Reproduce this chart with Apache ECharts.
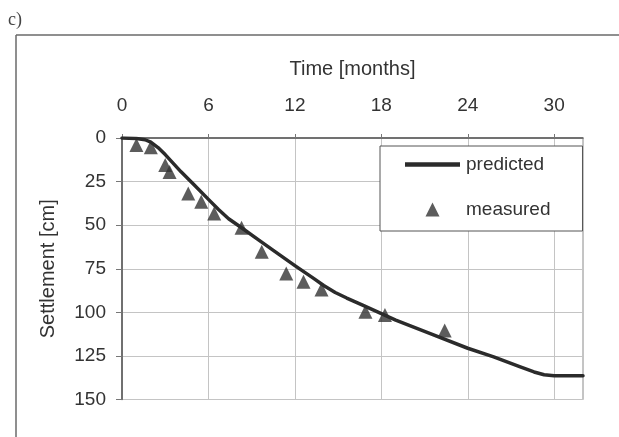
<!DOCTYPE html>
<html>
<head>
<meta charset="utf-8">
<title>Settlement vs time</title>
<script src="https://cdn.jsdelivr.net/npm/echarts@6/dist/echarts.min.js"></script>
<style>
  html, body { margin: 0; padding: 0; background: #ffffff; }
  #chart { width: 619px; height: 437px; }
</style>
</head>
<body>
<div id="chart"></div>
<script>
// Predicted settlement curve (months, cm)
const predictedTime = [0, 1.0, 1.6, 2.0, 2.5, 3.0, 4.1, 5.0, 6.0, 6.7, 7.4, 8.3, 9.5, 10.6, 12.0, 13.3, 14.0, 14.8, 15.6, 16.7, 19.0, 21.4, 24.0, 25.8, 27.6, 28.6, 29.3, 30.0, 32.0];
const predictedSettlement = [0, 0.3, 1.0, 2.4, 5.5, 9.5, 19.4, 26.8, 35.2, 41.0, 46.3, 51.5, 58.6, 65.0, 73.2, 80.5, 84.6, 88.6, 91.8, 95.9, 104.5, 112.2, 120.6, 125.6, 131.2, 134.2, 135.8, 136.4, 136.4];

// Measured settlement readings (months, cm)
const measuredTime = [1.0, 2.0, 3.0, 3.3, 4.6, 5.5, 6.4, 8.3, 9.7, 11.4, 12.6, 13.85, 16.9, 18.25, 22.4];
const measuredSettlement = [4.0, 5.3, 15.5, 19.5, 31.8, 36.6, 43.3, 51.5, 65.3, 77.7, 82.5, 86.9, 99.7, 101.6, 110.4];

// Axis ranges and labels
const timeTicks = [0, 6, 12, 18, 24, 30];
const settlementTicks = [0, 25, 50, 75, 100, 125, 150];
const seriesNames = ['predicted', 'measured'];
const axisTitles = { time: 'Time [months]', settlement: 'Settlement [cm]' };
const panelLabel = 'c)';

const FONT = '"Liberation Sans", Arial, sans-serif';
const TEXT = '#333333';

const pairs = (xs, ys) => xs.map((x, i) => [x, ys[i]]);

const chart = echarts.init(document.getElementById('chart'), null, { renderer: 'canvas' });

chart.setOption({
  backgroundColor: '#ffffff',
  animation: false,
  textStyle: { fontFamily: FONT },
  graphic: [
    // panel frame: top rule and left rule
    { type: 'line', silent: true, shape: { x1: 16, y1: 35, x2: 619, y2: 35 }, style: { stroke: '#6a6a6a', lineWidth: 1.5 } },
    { type: 'line', silent: true, shape: { x1: 16, y1: 35, x2: 16, y2: 437 }, style: { stroke: '#6a6a6a', lineWidth: 1.5 } },
    { type: 'text', silent: true, left: 8, top: 11,
      style: { text: panelLabel, font: '18px "Liberation Serif", "Times New Roman", serif', fill: '#444' } }
  ],
  grid: {
    left: 122, right: 36, top: 138, bottom: 37.5,
    show: true, borderColor: '#8a8a8a', borderWidth: 1, backgroundColor: 'transparent'
  },
  legend: {
    orient: 'vertical',
    left: 380, top: 146,
    symbolKeepAspect: true,
    data: [
      // thick dash for the curve, upright triangle for the readings
      { name: seriesNames[0], icon: 'path://M0,0H55V4.5H0Z' },
      { name: seriesNames[1], icon: 'path://M7,0L14,14L0,14Z' }
    ],
    itemWidth: 55, itemHeight: 14, itemGap: 26,
    padding: [9, 32, 12, 25],
    borderColor: '#555', borderWidth: 1,
    backgroundColor: '#ffffff',
    textStyle: { fontSize: 19, color: TEXT, fontFamily: FONT, padding: [0, 0, 0, 1] }
  },
  xAxis: {
    type: 'value',
    position: 'top',
    min: timeTicks[0], max: 32, interval: 6,
    name: axisTitles.time,
    nameLocation: 'middle',
    nameGap: 59,
    nameTextStyle: { fontSize: 20, color: TEXT, fontFamily: FONT },
    axisLine: { show: true, lineStyle: { color: '#555', width: 1.5 } },
    axisTick: { show: true, length: 4, lineStyle: { color: '#777' } },
    axisLabel: { fontSize: 19, color: TEXT, margin: 23, showMaxLabel: false, fontFamily: FONT,
      formatter: v => (timeTicks.indexOf(v) >= 0 ? String(v) : '') },
    splitLine: { show: true, lineStyle: { color: '#c4c4c4', width: 1 } }
  },
  yAxis: {
    type: 'value',
    inverse: true,
    min: settlementTicks[0], max: settlementTicks[settlementTicks.length - 1], interval: 25,
    name: axisTitles.settlement,
    nameLocation: 'middle',
    nameRotate: 90,
    nameGap: 64,
    nameTextStyle: { fontSize: 20, color: TEXT, fontFamily: FONT },
    axisLine: { show: true, lineStyle: { color: '#555', width: 1.5 } },
    axisTick: { show: true, length: 6, lineStyle: { color: '#777' } },
    axisLabel: { fontSize: 19, color: TEXT, margin: 16, fontFamily: FONT },
    splitLine: { show: true, lineStyle: { color: '#c4c4c4', width: 1 } }
  },
  series: [
    {
      name: seriesNames[0],
      type: 'line',
      data: pairs(predictedTime, predictedSettlement),
      showSymbol: false,
      symbol: 'none',
      smooth: false,
      lineStyle: { color: '#2b2b2b', width: 3.5, join: 'round', cap: 'round' },
      itemStyle: { color: '#2b2b2b' },
      z: 3
    },
    {
      name: seriesNames[1],
      type: 'scatter',
      data: pairs(measuredTime, measuredSettlement),
      symbol: 'triangle',
      symbolSize: 14,
      itemStyle: { color: '#333333' },
      z: 2
    }
  ]
});
</script>
</body>
</html>
